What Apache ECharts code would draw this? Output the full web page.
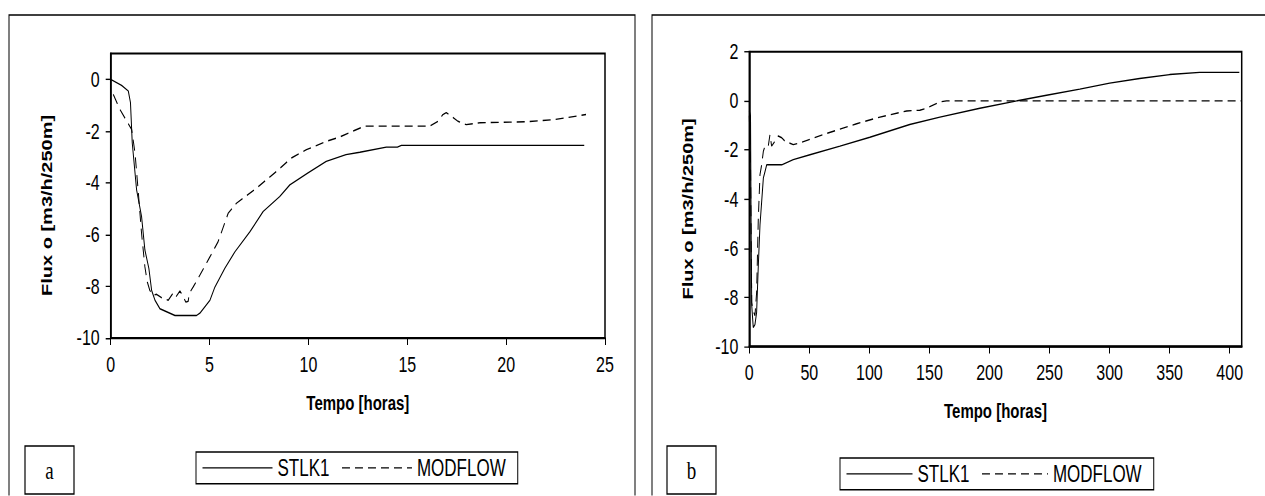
<!DOCTYPE html>
<html>
<head>
<meta charset="utf-8">
<script src="https://cdn.jsdelivr.net/npm/echarts@6/dist/echarts.min.js"></script>
<style>
  html, body { margin: 0; padding: 0; background: #fff; overflow: hidden; }
  #wrap { width: 1265px; height: 496px; overflow: hidden; }
  #chart { width: 1265px; transform-origin: 0 0; }
</style>
</head>
<body>
<div id="wrap"><div id="chart"></div></div>
<script>
// Panel (a): 0-25 h
const tempoA_stlk = [0, 0.55, 0.89, 1.0, 1.09, 1.31, 1.56, 1.73, 1.93, 2.07, 2.24, 2.49, 3.25, 4.34, 4.51, 5.02, 5.27, 5.77, 6.28, 7.04, 7.71, 8.55, 9.06, 9.98, 10.9, 11.9, 12.6, 13.94, 14.5, 14.7, 23.95];
const fluxoA_stlk = [0, -0.23, -0.45, -0.9, -2.46, -4.27, -5.3, -6.6, -7.31, -8.16, -8.54, -8.87, -9.13, -9.13, -9.04, -8.54, -8.03, -7.31, -6.67, -5.89, -5.11, -4.53, -4.08, -3.62, -3.17, -2.91, -2.82, -2.62, -2.62, -2.55, -2.55];
const tempoA_modflow = [0.13, 0.47, 1.06, 1.23, 1.40, 1.56, 1.73, 1.85, 1.98, 2.15, 2.32, 2.57, 2.91, 3.16, 3.30, 3.50, 3.63, 3.80, 3.92, 3.97, 4.17, 4.51, 5.02, 5.43, 5.94, 6.36, 7.37, 8.38, 9.14, 9.9, 10.9, 11.58, 12.25, 12.84, 16.13, 16.55, 16.8, 16.97, 17.22, 17.56, 17.98, 18.65, 21.0, 22.5, 24.04];
const fluxoA_modflow = [-0.58, -1.17, -1.94, -2.85, -4.4, -5.95, -7.25, -7.83, -8.16, -8.35, -8.31, -8.44, -8.54, -8.26, -8.41, -8.18, -8.35, -8.61, -8.58, -8.28, -8.03, -7.57, -6.86, -6.28, -5.18, -4.79, -4.21, -3.56, -3.04, -2.72, -2.4, -2.23, -2.0, -1.81, -1.81, -1.62, -1.36, -1.29, -1.42, -1.62, -1.75, -1.68, -1.64, -1.55, -1.36];

// Panel (b): 0-410 h
const tempoB_stlk = [0, 1, 1.5, 2, 3.3, 4.7, 6.1, 7.5, 8.9, 10.3, 11.7, 13.1, 14.5, 27, 36.6, 50.5, 75.5, 100.4, 133.6, 158.7, 192, 219.7, 247.5, 275.2, 300.1, 325, 350, 375, 408];
const fluxoB_stlk = [-0.4, -0.6, -5, -8.3, -9.22, -9.1, -8.6, -6.7, -5.05, -4.1, -3.14, -2.87, -2.6, -2.6, -2.39, -2.19, -1.84, -1.48, -0.96, -0.66, -0.3, -0.03, 0.23, 0.48, 0.72, 0.91, 1.07, 1.16, 1.16];
const tempoB_modflow = [0, 1, 2, 3, 4.7, 6.1, 7.5, 8.9, 10.3, 11.7, 13.1, 15.8, 17.2, 18.6, 21.4, 24.1, 27, 29.7, 36.6, 42.2, 61.6, 89.4, 108.8, 131, 142, 147.6, 158.7, 164.2, 410];
const fluxoB_modflow = [-0.6, -2.5, -8.2, -8.5, -8.74, -7.79, -4.78, -3.0, -2.6, -2.05, -1.84, -1.84, -1.37, -1.84, -1.64, -1.43, -1.5, -1.64, -1.78, -1.71, -1.37, -0.93, -0.66, -0.41, -0.38, -0.3, -0.04, 0, 0];

// Tick labels
const xTicksA = [0, 5, 10, 15, 20, 25];
const yTicksA = [-10, -8, -6, -4, -2, 0];
const xTicksB = [0, 50, 100, 150, 200, 250, 300, 350, 400];
const yTicksB = [-10, -8, -6, -4, -2, 0, 2];

const seriesNames = ['STLK1', 'MODFLOW'];
const xTitle = 'Tempo [horas]';
const yTitle = 'Flux o [m3/h/250m]';
const panelTags = ['a', 'b'];

// The figure is drawn at a compressed height and stretched vertically,
// which gives the tall, narrow lettering of the printed figure.
const S = 1.38;
const W = 1265, H = 496;
const sy = v => v / S;

const el = document.getElementById('chart');
el.style.height = (H / S) + 'px';
el.style.transform = 'scaleY(' + S + ')';

const FONT = '"Liberation Sans", Arial, Helvetica, sans-serif';
const INK = '#000';

const pairs = (xs, ys) => xs.map((x, i) => [x, ys[i]]);

function xAxisFor(grid, max, ticks, gap) {
  return {
    type: 'value', gridIndex: grid, min: 0, max: max, interval: ticks[1] - ticks[0],
    axisLine: { show: true, onZero: false, lineStyle: { color: INK, width: 1.5 } },
    axisTick: { show: true, inside: false, length: 5, customValues: ticks, lineStyle: { color: INK, width: 1 } },
    axisLabel: { customValues: ticks, color: INK, fontSize: 16, fontFamily: FONT, margin: 11 },
    splitLine: { show: false },
    name: xTitle, nameLocation: 'middle', nameGap: gap,
    nameTextStyle: { color: INK, fontSize: 15, fontWeight: 'bold', fontFamily: FONT }
  };
}
function yAxisFor(grid, min, max, ticks, gap) {
  return {
    type: 'value', gridIndex: grid, min: min, max: max, interval: 2,
    axisLine: { show: true, onZero: false, lineStyle: { color: INK, width: 1.5 } },
    axisTick: { show: true, inside: false, length: 5, customValues: ticks, lineStyle: { color: INK, width: 1 } },
    axisLabel: { customValues: ticks, color: INK, fontSize: 16, fontFamily: FONT, margin: 11 },
    splitLine: { show: false },
    name: yTitle, nameLocation: 'middle', nameGap: gap,
    nameTextStyle: { color: INK, fontSize: 14.5, fontWeight: 'bold', fontFamily: FONT, padding: [0, 14, 0, 0] }
  };
}
function lineSeries(name, grid, data, dashed) {
  return {
    type: 'line', name: name, xAxisIndex: grid, yAxisIndex: grid, data: data,
    symbol: 'none', showSymbol: false, smooth: false,
    lineStyle: { color: INK, width: 1, type: dashed ? [8, 5] : 'solid' },
    itemStyle: { color: INK },
    emphasis: { disabled: true }
  };
}
function legendFor(left, top, iconW) {
  return {
    data: seriesNames, orient: 'horizontal', left: left, top: top,
    padding: [2, 12, 2, 6], itemGap: 12, itemWidth: iconW, itemHeight: 12,
    borderColor: INK, borderWidth: 1, selectedMode: false,
    itemStyle: { opacity: 0 },
    lineStyle: { width: 1 },
    textStyle: { color: INK, fontSize: 17, fontFamily: FONT, lineHeight: 19 }
  };
}
function panelFrame(x, w) {
  return { type: 'rect', shape: { x: x, y: sy(15), width: w, height: 600 },
           style: { fill: 'none', stroke: INK, lineWidth: 1 }, silent: true };
}
function tagBox(x, label) {
  return [
    { type: 'rect', shape: { x: x, y: sy(446), width: 49, height: sy(48) },
      style: { fill: '#fff', stroke: INK, lineWidth: 1.2 }, silent: true },
    { type: 'text', x: x + 24.5, y: sy(470), silent: true,
      style: { text: label, fill: INK, font: '19px "Liberation Serif", "Times New Roman", serif',
               textAlign: 'center', textVerticalAlign: 'middle' } }
  ];
}

const chart = echarts.init(el, null, { renderer: 'svg', width: W, height: H / S });
chart.setOption({
  animation: false,
  backgroundColor: '#fff',
  graphic: [
    panelFrame(9, 626),
    panelFrame(652, 700),
    ...tagBox(25, panelTags[0]),
    ...tagBox(667, panelTags[1])
  ],
  grid: [
    { left: 110.7, top: sy(53.5), width: 494.3, height: sy(338) - sy(53.5),
      show: true, borderColor: INK, borderWidth: 1.5, backgroundColor: 'transparent' },
    { left: 749.3, top: sy(51.7), width: 492.4, height: sy(346.7) - sy(51.7),
      show: true, borderColor: INK, borderWidth: 1.5, backgroundColor: 'transparent' }
  ],
  xAxis: [ xAxisFor(0, 25, xTicksA, 40), xAxisFor(1, 410, xTicksB, 39) ],
  yAxis: [ yAxisFor(0, -10, 1, yTicksA, 56), yAxisFor(1, -10, 2, yTicksB, 54) ],
  legend: [ legendFor(196, sy(452), 70), legendFor(840, sy(458), 66) ],
  series: [
    lineSeries(seriesNames[0], 0, pairs(tempoA_stlk, fluxoA_stlk), false),
    lineSeries(seriesNames[1], 0, pairs(tempoA_modflow, fluxoA_modflow), true),
    lineSeries(seriesNames[0], 1, pairs(tempoB_stlk, fluxoB_stlk), false),
    lineSeries(seriesNames[1], 1, pairs(tempoB_modflow, fluxoB_modflow), true)
  ]
});
</script>
</body>
</html>
